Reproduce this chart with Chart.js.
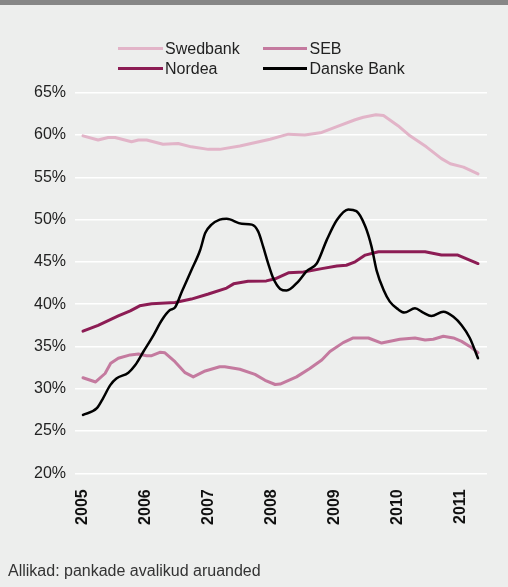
<!DOCTYPE html>
<html>
<head>
<meta charset="utf-8">
<script src="https://cdn.jsdelivr.net/npm/chart.js@4/dist/chart.umd.min.js"></script>
<style>
  html, body { margin:0; padding:0; }
  body { width:508px; height:587px; background:#edeeed; position:relative; overflow:hidden;
         font-family:"Liberation Sans", Arial, Helvetica, sans-serif; color:#222; }
  #topbar { position:absolute; left:0; top:0; width:508px; height:5px; background:#878787; }
  #wrap { position:absolute; left:0; top:0; width:508px; height:587px; }
  .lg { position:absolute; font-size:16px; line-height:16px; white-space:nowrap; color:#222; }
  .sw { position:absolute; height:3px; width:45px; }
  #note { position:absolute; left:8px; top:562px; font-size:16px; line-height:18px; color:#333; white-space:nowrap; }
</style>
</head>
<body>
<div id="topbar"></div>
<div id="wrap"><canvas id="c" width="508" height="587"></canvas></div>
<div id="legend"></div>
<div id="note">Allikad: pankade avalikud aruanded</div>
<script>
// ---- data (decimal year, percent) ----
const seriesNames = ["Swedbank", "SEB", "Nordea", "Danske Bank"];
const yearTicks = [2005, 2006, 2007, 2008, 2009, 2010, 2011];
const yTicks = [20, 25, 30, 35, 40, 45, 50, 55, 60, 65];

const swedbankX = [2005.00,2005.24,2005.40,2005.51,2005.77,2005.88,2006.01,2006.27,2006.51,2006.72,2006.99,2007.17,2007.49,2007.97,2008.26,2008.52,2008.79,2009.03,2009.32,2009.45,2009.65,2009.77,2010.00,2010.19,2010.45,2010.69,2010.83,2011.04,2011.27];
const swedbankY = [59.9,59.4,59.7,59.7,59.2,59.4,59.4,58.9,59.0,58.6,58.3,58.3,58.7,59.5,60.1,60.0,60.3,61.0,61.8,62.1,62.4,62.3,61.1,59.9,58.6,57.2,56.6,56.2,55.4];

const sebX = [2005.00,2005.20,2005.35,2005.44,2005.56,2005.75,2005.88,2006.01,2006.09,2006.22,2006.30,2006.46,2006.62,2006.75,2006.94,2007.17,2007.25,2007.49,2007.73,2007.89,2008.05,2008.13,2008.39,2008.60,2008.79,2008.92,2009.13,2009.29,2009.53,2009.74,2010.03,2010.27,2010.43,2010.56,2010.72,2010.88,2011.01,2011.14,2011.27];
const sebY = [31.3,30.8,31.8,33.0,33.6,34.0,34.1,33.9,33.9,34.3,34.25,33.2,31.9,31.4,32.1,32.6,32.6,32.3,31.7,31.0,30.5,30.55,31.4,32.4,33.4,34.4,35.45,36.0,36.0,35.4,35.85,36.0,35.75,35.85,36.2,36.0,35.6,35.0,34.25];

const nordeaX = [2005.00,2005.24,2005.56,2005.75,2005.90,2006.09,2006.46,2006.72,2006.99,2007.28,2007.39,2007.62,2007.91,2008.05,2008.26,2008.50,2008.79,2009.03,2009.18,2009.32,2009.48,2009.69,2010.43,2010.69,2010.95,2011.27];
const nordeaY = [36.8,37.5,38.6,39.2,39.8,40.05,40.2,40.6,41.2,41.9,42.4,42.7,42.75,43.0,43.7,43.8,44.2,44.5,44.6,45.0,45.8,46.2,46.2,45.8,45.8,44.8];

const danskeX = [2005.00,2005.22,2005.32,2005.43,2005.53,2005.72,2005.83,2005.96,2006.12,2006.25,2006.38,2006.46,2006.57,2006.72,2006.86,2006.94,2007.04,2007.17,2007.28,2007.52,2007.68,2007.78,2007.86,2007.94,2008.02,2008.13,2008.23,2008.42,2008.55,2008.71,2008.87,2009.03,2009.21,2009.34,2009.48,2009.58,2009.66,2009.77,2009.87,2010.00,2010.10,2010.27,2010.40,2010.53,2010.72,2010.88,2011.01,2011.14,2011.27];
const danskeY = [26.9,27.7,28.9,30.4,31.2,31.9,32.8,34.4,36.35,38.1,39.3,39.6,41.5,44.0,46.4,48.4,49.4,50.0,50.1,49.5,49.4,48.6,46.8,44.8,43.05,41.8,41.6,42.7,43.9,44.8,47.6,49.95,51.2,51.0,49.2,46.8,44.0,41.7,40.3,39.4,39.0,39.5,39.0,38.6,39.1,38.5,37.5,36.0,33.6];

const colors = ["#e2b4c8", "#c47a9f", "#8c1c54", "#000000"];

function pts(xs, ys) { return xs.map((x, i) => ({ x: x, y: ys[i] })); }

// ---- HTML legend (2 x 2 grid) ----
const legendPos = [
  { lx: 118, tx: 165, y: 48.5 },
  { lx: 263, tx: 309.5, y: 48.5 },
  { lx: 118, tx: 165, y: 68.7 },
  { lx: 263, tx: 309.5, y: 68.7 }
];
const lgEl = document.getElementById('legend');
seriesNames.forEach((n, i) => {
  const p = legendPos[i];
  const s = document.createElement('div');
  s.className = 'sw';
  s.style.left = p.lx + 'px';
  s.style.top = (p.y - 1.5) + 'px';
  s.style.background = colors[i];
  s.style.width = (i === 1 || i === 3 ? 44 : 45) + 'px';
  lgEl.appendChild(s);
  const t = document.createElement('div');
  t.className = 'lg';
  t.textContent = n;
  t.style.left = p.tx + 'px';
  t.style.top = (p.y - 8) + 'px';
  lgEl.appendChild(t);
});

const font = { family: '"Liberation Sans", Arial, Helvetica, sans-serif', size: 16 };

new Chart(document.getElementById('c'), {
  type: 'line',
  data: {
    datasets: [
      { label: seriesNames[0], data: pts(swedbankX, swedbankY), borderColor: colors[0], borderWidth: 3, order: 3 },
      { label: seriesNames[1], data: pts(sebX, sebY), borderColor: colors[1], borderWidth: 3, order: 2 },
      { label: seriesNames[2], data: pts(nordeaX, nordeaY), borderColor: colors[2], borderWidth: 3, order: 1 },
      { label: seriesNames[3], data: pts(danskeX, danskeY), borderColor: colors[3], borderWidth: 2.5, order: 0, cubicInterpolationMode: 'monotone' }
    ]
  },
  options: {
    responsive: false,
    animation: false,
    events: [],
    elements: { point: { radius: 0 }, line: { tension: 0, borderCapStyle: 'round', borderJoinStyle: 'round' } },
    layout: { padding: { left: 33, right: 21, top: 92.7, bottom: 43.7 } },
    plugins: { legend: { display: false }, tooltip: { enabled: false } },
    scales: {
      x: {
        type: 'linear',
        min: 2004.873,
        max: 2011.413,
        afterBuildTicks: (s) => { s.ticks = yearTicks.map(v => ({ value: v })); },
        afterFit: (s) => { s.height = 70; },
        grid: { display: false, drawTicks: false },
        border: { display: false },
        ticks: {
          minRotation: 90, maxRotation: 90, padding: 16, autoSkip: false,
          color: '#111', font: Object.assign({}, font, { weight: 'bold' }),
          callback: (v) => String(v)
        }
      },
      y: {
        min: 20, max: 65,
        afterBuildTicks: (s) => { s.ticks = yTicks.map(v => ({ value: v })); },
        afterFit: (s) => { s.width = 42; },
        grid: { color: '#ffffff', lineWidth: 1.5, drawTicks: false },
        border: { display: false },
        ticks: { padding: 9, color: '#222', font: font, callback: (v) => v + '%' }
      }
    }
  }
});
</script>
</body>
</html>
